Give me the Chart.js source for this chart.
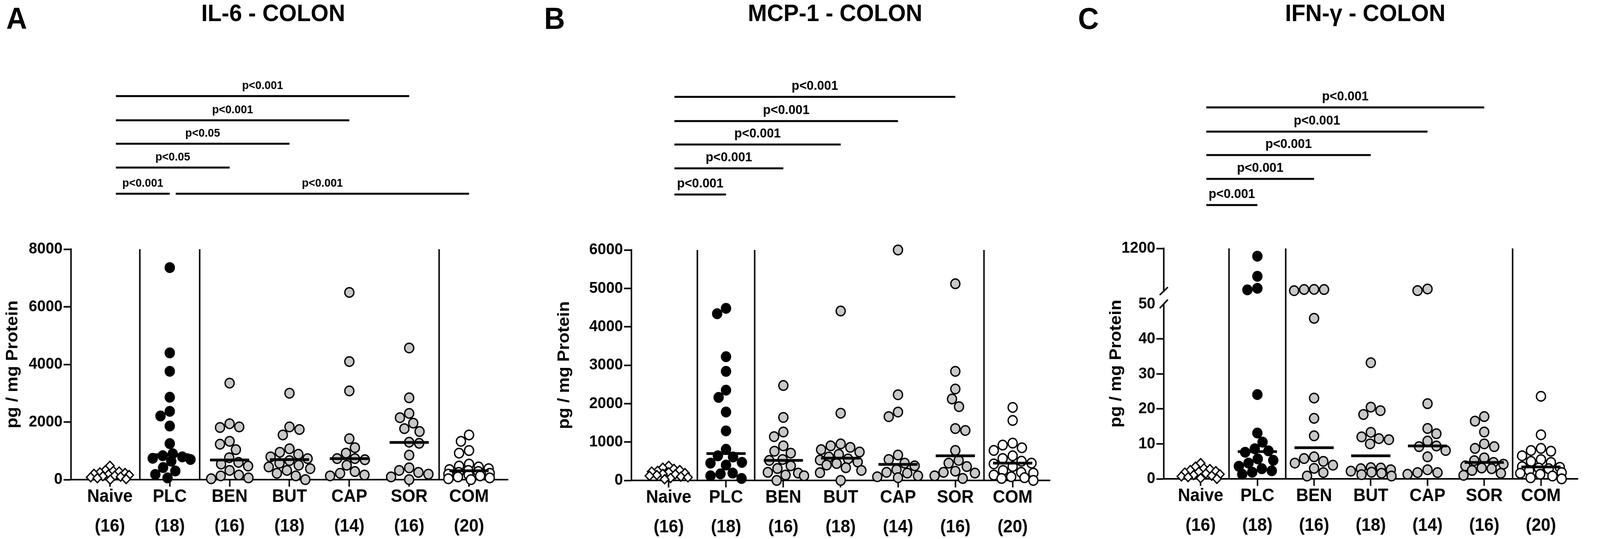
<!DOCTYPE html>
<html>
<head>
<meta charset="utf-8">
<title>Colon cytokines</title>
<script src="https://cdn.jsdelivr.net/npm/chart.js@4.4.1/dist/chart.umd.min.js"></script>
<style>
  html, body { margin:0; padding:0; background:#fff; overflow:hidden; }
  #fig { position:relative; width:4328px; height:1380px; overflow:hidden; background:#fff; transform-origin:0 0; }
  #fig canvas { position:absolute; top:0; }
  .txt { position:absolute; font-family:"Liberation Sans", Arial, Helvetica, sans-serif; font-weight:bold; line-height:1; color:#000; white-space:nowrap; }
  .letter { top:8px; font-size:78px; }
  .title { top:2px; font-size:62px; width:1000px; text-align:center; }
</style>
</head>
<body>
<div id="fig">
  <canvas id="chartA" width="1450" height="1380" style="left:0px"></canvas>
  <canvas id="chartB" width="1450" height="1380" style="left:1450px"></canvas>
  <canvas id="chartC" width="1450" height="1380" style="left:2878px"></canvas>
  <div class="txt letter" style="left:17px">A</div>
  <div class="txt letter" style="left:1472px">B</div>
  <div class="txt letter" style="left:2916px">C</div>
  <div class="txt title" id="titleA" style="left:239px"></div>
  <div class="txt title" id="titleB" style="left:1759px"></div>
  <div class="txt title" id="titleC" style="left:3193px"></div>
</div>
<script>
// ---------------- DATA ----------------
const categories = ['Naive', 'PLC', 'BEN', 'BUT', 'CAP', 'SOR', 'COM'];
const groupSizes = [16, 18, 16, 18, 14, 16, 20];
const panelTitles = ['IL-6 - COLON', 'MCP-1 - COLON', 'IFN-\u03b3 - COLON'];
const yAxisTitle = 'pg / mg Protein';

// IL-6 (pg / mg protein)
const il6Naive = [480, 330, 300, 280, 250, 230, 200, 180, 160, 140, 120, 100, 80, 50, 20, 0];
const il6PLC = [7360, 4400, 3760, 2860, 2370, 2210, 1860, 1250, 900, 830, 790, 740, 700, 640, 420, 300, 180, 60];
const il6BEN = [3350, 1940, 1830, 1810, 1330, 1230, 1040, 760, 600, 540, 470, 320, 160, 130, 60, 30];
const il6BUT = [3000, 1830, 1740, 1550, 1070, 950, 880, 790, 730, 660, 570, 500, 440, 380, 320, 220, 130, 0];
const il6CAP = [6500, 4100, 3080, 1420, 1110, 920, 730, 730, 690, 500, 280, 220, 160, 130];
const il6SOR = [4570, 2840, 2300, 2150, 1960, 1770, 1670, 1300, 1260, 850, 410, 320, 250, 190, 95, 0];
const il6COM = [1550, 1330, 1010, 920, 540, 470, 440, 380, 350, 320, 280, 250, 220, 190, 160, 130, 95, 60, 30, 0];
const il6Medians = [null, 865, 680, 695, 730, 1290, 310];
const il6YTicks = [0, 2000, 4000, 6000, 8000];
const il6SigPairs = [[0, 1], [1, 6], [0, 2], [0, 3], [0, 4], [0, 5]];
const il6SigLevels = [0, 0, 1, 2, 3, 4];
const il6SigLabels = ['p<0.001', 'p<0.001', 'p<0.05', 'p<0.05', 'p<0.001', 'p<0.001'];

// MCP-1 (pg / mg protein)
const mcpNaive = [380, 330, 300, 270, 250, 230, 210, 190, 170, 160, 140, 120, 100, 80, 60, 30];
const mcpPLC = [4480, 4340, 3220, 2840, 2350, 2160, 1780, 1290, 810, 640, 610, 470, 450, 400, 190, 170, 120, 50];
const mcpBEN = [2470, 1640, 1260, 1140, 900, 760, 710, 545, 520, 380, 310, 210, 190, 140, 120, 0];
const mcpBUT = [4410, 1750, 950, 900, 860, 800, 740, 680, 610, 560, 530, 480, 440, 400, 330, 260, 200, 0];
const mcpCAP = [6000, 2230, 1780, 1660, 660, 545, 450, 380, 280, 210, 190, 120, 95, 70];
const mcpSOR = [5120, 2840, 2380, 2120, 1920, 1350, 1300, 780, 520, 450, 360, 240, 210, 190, 120, 50];
const mcpCOM = [1900, 1560, 970, 920, 850, 780, 640, 570, 500, 450, 430, 360, 260, 210, 190, 140, 95, 70, 50, 0];
const mcpMedians = [null, 700, 520, 580, 417, 640, 450];
const mcpYTicks = [0, 1000, 2000, 3000, 4000, 5000, 6000];
const mcpSigPairs = [[0, 1], [0, 2], [0, 3], [0, 4], [0, 5]];
const mcpSigLevels = [0, 1, 2, 3, 4];
const mcpSigLabels = ['p<0.001', 'p<0.001', 'p<0.001', 'p<0.001', 'p<0.001'];

// IFN-gamma (pg / mg protein), broken axis 0-50 // 50-1200
const ifnNaive = [4.5, 3.5, 3.0, 2.8, 2.5, 2.2, 2.0, 1.8, 1.5, 1.3, 1.1, 0.9, 0.7, 0.5, 0.2, 0];
const ifnPLC = [990, 447, 123, 81, 24.1, 13.1, 10.5, 8.6, 8.0, 7.6, 5.7, 5.3, 4.5, 3.6, 2.9, 2.3, 1.9, 1.3];
const ifnBEN = [95, 92, 90, 60, 45.9, 23.1, 17.3, 12.3, 6.3, 5.8, 5.0, 4.5, 3.9, 3.0, 1.8, 0.8];
const ifnBUT = [33.2, 20.5, 19.5, 18.4, 13.3, 12.0, 11.5, 11.2, 10.0, 3.2, 3.1, 2.9, 2.6, 2.2, 1.9, 1.6, 1.2, 0.8];
const ifnCAP = [105, 62, 21.5, 14.4, 12.9, 10.8, 9.4, 9.2, 8.1, 6.3, 2.6, 1.8, 1.8, 1.3];
const ifnSOR = [17.8, 16.5, 13.4, 10.0, 9.2, 8.7, 6.0, 5.2, 4.7, 4.2, 3.7, 3.1, 2.9, 2.4, 1.6, 1.0];
const ifnCOM = [23.6, 12.6, 8.7, 8.1, 7.9, 6.6, 5.5, 5.0, 4.7, 3.5, 3.3, 3.1, 2.9, 2.4, 1.8, 1.6, 1.3, 0.8, 0.3, 0];
const ifnMedians = [null, 7.8, 8.9, 6.6, 9.4, 4.7, 3.4];
const ifnYTicks = [0, 10, 20, 30, 40, 50, 1200];
const ifnSigPairs = [[0, 1], [0, 2], [0, 3], [0, 4], [0, 5]];
const ifnSigLevels = [0, 1, 2, 3, 4];
const ifnSigLabels = ['p<0.001', 'p<0.001', 'p<0.001', 'p<0.001', 'p<0.001'];
// axis break settings for IFN-gamma
const ifnLowMax = 53.7, ifnHighMin = 50, ifnSplit = 0.185;

// ---------------- STYLE ----------------
const FONT = '"Liberation Sans", Arial, Helvetica, sans-serif';
const groupFills = ['#ffffff', '#000000', '#c8c8c8', '#c8c8c8', '#c8c8c8', '#c8c8c8', '#ffffff'];
const separators = [0.5, 1.5, 5.5];
const sigLevelOffsets = [0, -67, -128, -188, -250];

// map the 4328x1380 figure onto the actual viewport
(function fitFigure() {
  const fig = document.getElementById('fig');
  const sx = window.innerWidth / 4328, sy = window.innerHeight / 1380;
  if (sx > 0 && sy > 0 && (Math.abs(sx - 1) > 0.002 || Math.abs(sy - 1) > 0.002)) {
    fig.style.transform = 'scale(' + sx + ',' + sy + ')';
  }
})();

Chart.defaults.font.family = FONT;
Chart.defaults.color = '#000';

// broken linear scale (two linear segments)
class BrokenLinearScale extends Chart.LinearScale {
  getPixelForValue(value) {
    const top = this.top, bottom = this.bottom;
    const yb = top + (bottom - top) * ifnSplit;
    if (value <= ifnLowMax) return bottom - (value - this.min) / (ifnLowMax - this.min) * (bottom - yb);
    return yb - (value - ifnHighMin) / (this.max - ifnHighMin) * (yb - top);
  }
  getValueForPixel(pixel) {
    const top = this.top, bottom = this.bottom;
    const yb = top + (bottom - top) * ifnSplit;
    if (pixel >= yb) return this.min + (bottom - pixel) / (bottom - yb) * (ifnLowMax - this.min);
    return ifnHighMin + (yb - pixel) / (yb - top) * (this.max - ifnHighMin);
  }
}
BrokenLinearScale.id = 'brokenLinear';
BrokenLinearScale.defaults = Chart.LinearScale.defaults;
Chart.register(BrokenLinearScale);

function makePanel(p) {
  document.getElementById(p.titleId).textContent = p.title;
  const canvas = document.getElementById(p.canvasId);
  const W = canvas.width;
  const datasets = [];
  datasets.push({
    data: p.medians.map((m, i) => (m == null ? null : { x: i, y: m })).filter(Boolean),
    pointStyle: 'line', pointRadius: 53, pointHoverRadius: 53, pointBorderWidth: 7,
    pointBorderColor: '#000', pointBackgroundColor: '#000',
    order: 0, clip: false, xAxisID: 'x', yAxisID: 'y'
  });
  p.groups.forEach((vals, g) => {
    datasets.push({
      data: vals.map(v => ({ x: g, y: v })),
      pointStyle: g === 0 ? 'rectRot' : 'circle',
      pointRadius: g === 0 ? 11.5 : 12.25,
      pointHoverRadius: g === 0 ? 11.5 : 12.25,
      pointBorderWidth: 3.5,
      pointBackgroundColor: groupFills[g],
      pointBorderColor: '#000',
      order: 1, clip: false, xAxisID: 'x', yAxisID: 'y'
    });
  });

  const annot = {
    id: 'annot' + p.canvasId,
    beforeDatasetsDraw(chart) {
      const { ctx, chartArea, scales: { x } } = chart;
      ctx.save();
      ctx.strokeStyle = '#000'; ctx.lineWidth = 4; ctx.lineCap = 'butt';
      separators.forEach(s => {
        const px = x.getPixelForValue(s);
        ctx.beginPath(); ctx.moveTo(px, chartArea.top); ctx.lineTo(px, chartArea.bottom); ctx.stroke();
      });
      ctx.restore();
    },
    afterDraw(chart) {
      const { ctx, chartArea, scales: { x } } = chart;
      ctx.save();
      if (p.broken) {
        const yb = chartArea.top + (chartArea.bottom - chartArea.top) * ifnSplit;
        const ax = chartArea.left;
        ctx.fillStyle = '#fff';
        ctx.fillRect(ax - 4, yb + 2, 8, 30);
        ctx.strokeStyle = '#000'; ctx.lineWidth = 4;
        ctx.beginPath(); ctx.moveTo(ax - 11, yb + 10); ctx.lineTo(ax + 11, yb - 10); ctx.stroke();
        ctx.beginPath(); ctx.moveTo(ax - 11, yb + 44); ctx.lineTo(ax + 11, yb + 22); ctx.stroke();
      }
      const yLow = chartArea.top + p.sigBase;
      ctx.fillStyle = '#000'; ctx.strokeStyle = '#000';
      ctx.font = 'bold ' + p.sigFont + 'px ' + FONT;
      ctx.textAlign = 'center'; ctx.textBaseline = 'alphabetic';
      p.sigPairs.forEach(([a, b], k) => {
        const yy = yLow + sigLevelOffsets[p.sigLevels[k]];
        const x1 = x.getPixelForValue(a + 0.1), x2 = x.getPixelForValue(b);
        ctx.lineWidth = 5; ctx.lineCap = 'butt';
        ctx.beginPath(); ctx.moveTo(x1, yy); ctx.lineTo(x2, yy); ctx.stroke();
        ctx.fillText(p.sigLabels[k], (x1 + x2) / 2, yy - 18);
      });
      ctx.restore();
    }
  };

  const chart = new Chart(canvas, {
    type: 'scatter',
    data: { datasets },
    plugins: [annot],
    options: {
      responsive: false, animation: false, devicePixelRatio: 1, events: [],
      layout: { padding: { left: 0, right: W - p.axisRight, top: p.top, bottom: 0 } },
      plugins: { legend: { display: false }, tooltip: { enabled: false }, title: { display: false } },
      scales: {
        x: {
          type: 'linear', position: 'bottom', min: -0.65, max: 6.65,
          afterBuildTicks: s => { s.ticks = categories.map((c, i) => ({ value: i })); },
          afterFit: s => { s.height = 1380 - p.bottom; },
          ticks: {
            callback: v => [categories[Math.round(v)], '(' + groupSizes[Math.round(v)] + ')'],
            font: { size: 46, weight: 'bold', lineHeight: 1.66 }, color: '#000',
            padding: -12, autoSkip: false, maxRotation: 0, minRotation: 0
          },
          grid: { drawOnChartArea: false, drawTicks: true, tickLength: 18, tickWidth: 4, tickColor: '#000' },
          border: { display: true, color: '#000', width: 4 }
        },
        y: {
          type: p.broken ? 'brokenLinear' : 'linear', position: 'left', min: 0, max: p.yMax,
          afterBuildTicks: s => { s.ticks = p.yTicks.map(v => ({ value: v })); },
          afterFit: s => { s.width = p.axisLeft; },
          ticks: { callback: v => String(v), font: { size: 41, weight: 'bold' }, color: '#000', padding: 3, autoSkip: false },
          grid: {
            drawOnChartArea: false, drawTicks: true, tickLength: 20, tickWidth: 4,
            tickColor: c => (p.hideTick != null && c.tick && c.tick.value === p.hideTick) ? 'rgba(0,0,0,0)' : '#000'
          },
          border: { display: true, color: '#000', width: 4 },
          title: { display: true, text: yAxisTitle, color: '#000', font: { size: 45, weight: 'bold', lineHeight: 1.2 }, padding: { top: p.yTitlePad, bottom: 0 } }
        }
      }
    }
  });
  swarm(chart, p);
  return chart;
}

// beeswarm layout of points around each category (deterministic)
function swarm(chart, p) {
  const x = chart.scales.x, y = chart.scales.y;
  const unit = x.getPixelForValue(1) - x.getPixelForValue(0);
  p.groups.forEach((vals, g) => {
    const data = chart.data.datasets[g + 1].data;
    const D = g === 0 ? 16 : 27;
    const maxOff = g === 0 ? 52 : 56;
    const pts = vals.map((v, k) => ({ k, py: y.getPixelForValue(v) })).sort((a, b) => a.py - b.py || a.k - b.k);
    const placed = [];
    pts.forEach((pt, n) => {
      const sgn = n % 2 === 0 ? 1 : -1;
      let best = 0, bestCost = Infinity, found = false;
      for (let s = 0; s <= maxOff && !found; s++) {
        const cands = s === 0 ? [0] : [sgn * s, -sgn * s];
        for (const off of cands) {
          let cost = 0;
          for (const q of placed) {
            const d = Math.hypot(off - q.ox, pt.py - q.py);
            if (d < D) cost += D - d;
          }
          if (cost === 0) { best = off; found = true; break; }
          if (cost < bestCost) { bestCost = cost; best = off; }
        }
      }
      placed.push({ ox: best, py: pt.py });
      data[pt.k].x = g + best / unit;
    });
  });
  chart.update('none');
}

makePanel({
  canvasId: 'chartA', titleId: 'titleA', title: panelTitles[0],
  axisLeft: 192, axisRight: 1374, top: 638, bottom: 1228,
  yMax: 8000, yTicks: il6YTicks, yTitlePad: 8,
  groups: [il6Naive, il6PLC, il6BEN, il6BUT, il6CAP, il6SOR, il6COM], medians: il6Medians,
  sigPairs: il6SigPairs, sigLevels: il6SigLevels, sigLabels: il6SigLabels, sigBase: -142, sigFont: 30
});
makePanel({
  canvasId: 'chartB', titleId: 'titleB', title: panelTitles[1],
  axisLeft: 258, axisRight: 1446, top: 640, bottom: 1230,
  yMax: 6000, yTicks: mcpYTicks, yTitlePad: 50,
  groups: [mcpNaive, mcpPLC, mcpBEN, mcpBUT, mcpCAP, mcpSOR, mcpCOM], medians: mcpMedians,
  sigPairs: mcpSigPairs, sigLevels: mcpSigLevels, sigLabels: mcpSigLabels, sigBase: -142, sigFont: 34
});
makePanel({
  canvasId: 'chartC', titleId: 'titleC', title: panelTitles[2],
  axisLeft: 270, axisRight: 1447, top: 636, bottom: 1226,
  yMax: 1200, yTicks: ifnYTicks, yTitlePad: 115, broken: true, hideTick: 50,
  groups: [ifnNaive, ifnPLC, ifnBEN, ifnBUT, ifnCAP, ifnSOR, ifnCOM], medians: ifnMedians,
  sigPairs: ifnSigPairs, sigLevels: ifnSigLevels, sigLabels: ifnSigLabels, sigBase: -111, sigFont: 34
});
</script>
</body>
</html>
